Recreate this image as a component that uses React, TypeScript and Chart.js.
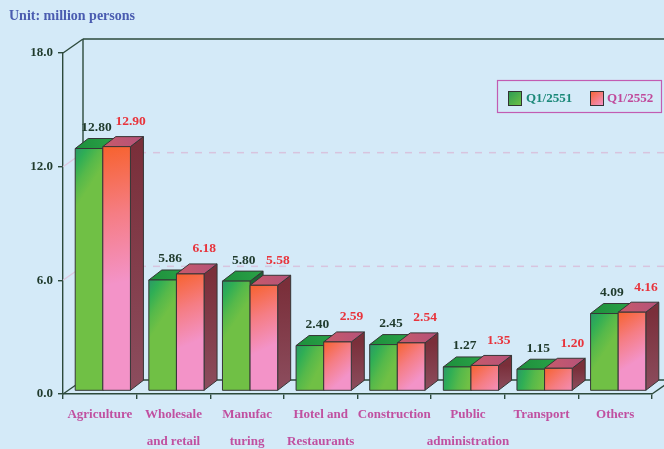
import React, { useEffect, useRef } from 'react';
import { Chart, registerables } from 'chart.js';

Chart.register(...registerables);

// ---------- data ----------
const categories: string[][] = [
  ['Agriculture'],
  ['Wholesale', 'and retail'],
  ['Manufac', 'turing'],
  ['Hotel and', 'Restaurants'],
  ['Construction'],
  ['Public', 'administration'],
  ['Transport'],
  ['Others'],
];
const seriesNames = ['Q1/2551', 'Q1/2552'];
const q2551 = [12.8, 5.86, 5.8, 2.4, 2.45, 1.27, 1.15, 4.09];
const q2552 = [12.9, 6.18, 5.58, 2.59, 2.54, 1.35, 1.2, 4.16];
const yMin = 0;
const yMax = 18;
const yStep = 6;
const gridValues = [6, 12];
const unitTitle = 'Unit: million persons';

// ---------- styles ----------
const BG = '#d4eaf8';
const FONT = '"Liberation Serif", "Times New Roman", serif';
const AXIS = '#2d4a3c';
const SX = 3, SY = -3; // bar offset into depth
const BDX = 13, BDY = -10; // bar depth
const WDX = 20, WDY = -14; // wall depth

function poly(ctx: CanvasRenderingContext2D, pts: number[][], fill: any, stroke = '#363636') {
  ctx.beginPath();
  ctx.moveTo(pts[0][0], pts[0][1]);
  for (let i = 1; i < pts.length; i++) ctx.lineTo(pts[i][0], pts[i][1]);
  ctx.closePath();
  ctx.fillStyle = fill;
  ctx.fill();
  ctx.strokeStyle = stroke;
  ctx.lineWidth = 1;
  ctx.stroke();
}

function line(ctx: CanvasRenderingContext2D, x1: number, y1: number, x2: number, y2: number) {
  ctx.beginPath();
  ctx.moveTo(x1, y1);
  ctx.lineTo(x2, y2);
  ctx.stroke();
}

function drawBar(ctx: CanvasRenderingContext2D, el: any, kind: number) {
  const p = el.getProps(['x', 'y', 'base', 'width'], true);
  const x0 = p.x - p.width / 2 + SX;
  const x1 = x0 + p.width;
  const top = p.y + SY;
  const bot = p.base + SY;
  const h = bot - top;
  let side: any;
  let topFill: any;
  let front: any;
  if (kind === 0) {
    side = ctx.createLinearGradient(0, top, 0, bot);
    side.addColorStop(0, '#1b6535');
    side.addColorStop(1, '#2a7a44');
    topFill = ctx.createLinearGradient(x0, top, x1 + BDX, top + BDY);
    topFill.addColorStop(0, '#1d8f3c');
    topFill.addColorStop(1, '#2aa247');
    front = ctx.createLinearGradient(x0, top, x1, top + Math.min(h, 60) * 0.3);
    front.addColorStop(0, '#2a9868');
    front.addColorStop(0.3, '#2fae55');
    front.addColorStop(0.65, '#56b94a');
    front.addColorStop(1, '#70c045');
  } else {
    side = ctx.createLinearGradient(0, top, 0, bot);
    side.addColorStop(0, '#7a2f3a');
    side.addColorStop(1, '#8c4d5e');
    topFill = ctx.createLinearGradient(x0, top, x1 + BDX, top + BDY);
    topFill.addColorStop(0, '#c85a6a');
    topFill.addColorStop(1, '#b4527a');
    front = ctx.createLinearGradient(x0, top, x1, top + Math.max(30, h * 0.55));
    front.addColorStop(0, '#f7622e');
    front.addColorStop(0.5, '#f57d84');
    front.addColorStop(1, '#f393c8');
  }
  poly(ctx, [[x1, top], [x1 + BDX, top + BDY], [x1 + BDX, bot + BDY], [x1, bot]], side);
  poly(ctx, [[x0, top], [x0 + BDX, top + BDY], [x1 + BDX, top + BDY], [x1, top]], topFill);
  poly(ctx, [[x0, top], [x1, top], [x1, bot], [x0, bot]], front);
}

const threeD = {
  id: 'threeD',
  beforeDraw(chart: any) {
    const { ctx, width, height } = chart;
    ctx.save();
    ctx.fillStyle = BG;
    ctx.fillRect(0, 0, width, height);
    ctx.restore();
  },
  beforeDatasetsDraw(chart: any) {
    const { ctx, chartArea: a, scales } = chart;
    const y = scales.y;
    ctx.save();
    ctx.strokeStyle = '#d8c4de';
    ctx.lineWidth = 1.5;
    ctx.setLineDash([7, 7]);
    for (const v of gridValues) {
      const py = y.getPixelForValue(v);
      line(ctx, a.left + WDX, py + WDY, chart.width + 20, py + WDY);
    }
    ctx.setLineDash([]);
    ctx.strokeStyle = '#dcc6de';
    ctx.lineWidth = 1.2;
    for (const v of gridValues) {
      const py = y.getPixelForValue(v);
      line(ctx, a.left, py, a.left + WDX, py + WDY);
    }
    ctx.strokeStyle = AXIS;
    ctx.lineWidth = 1.4;
    line(ctx, a.left, a.top, a.left + WDX, a.top + WDY);
    line(ctx, a.left + WDX, a.top + WDY, a.left + WDX, a.bottom + WDY);
    line(ctx, a.left + WDX, a.top + WDY, chart.width + 20, a.top + WDY);
    line(ctx, a.left, a.bottom, a.left + WDX, a.bottom + WDY);
    line(ctx, a.left + WDX, a.bottom + WDY, a.right + WDX, a.bottom + WDY);
    line(ctx, a.right, a.bottom, a.right + WDX, a.bottom + WDY);
    ctx.restore();
  },
  afterDatasetsDraw(chart: any) {
    const { ctx } = chart;
    const m0 = chart.getDatasetMeta(0);
    const m1 = chart.getDatasetMeta(1);
    ctx.save();
    for (let i = 0; i < m0.data.length; i++) {
      drawBar(ctx, m0.data[i], 0);
      drawBar(ctx, m1.data[i], 1);
    }
    ctx.font = `bold 13.5px ${FONT}`;
    ctx.textAlign = 'center';
    ctx.textBaseline = 'middle';
    for (let i = 0; i < m0.data.length; i++) {
      const a = m0.data[i].getProps(['x', 'y'], true);
      const b = m1.data[i].getProps(['x', 'y'], true);
      ctx.fillStyle = '#1f3a2c';
      ctx.fillText(q2551[i].toFixed(2), a.x + SX + 7.5, a.y + SY - 21);
      ctx.fillStyle = '#e8343c';
      ctx.fillText(q2552[i].toFixed(2), b.x + SX + 14, b.y + SY - 25);
    }
    ctx.restore();
  },
  afterDraw(chart: any) {
    const { ctx } = chart;
    ctx.save();
    ctx.font = `bold 14px ${FONT}`;
    ctx.fillStyle = '#4a5cb0';
    ctx.textAlign = 'left';
    ctx.textBaseline = 'middle';
    ctx.fillText(unitTitle, 9, 16);
    ctx.strokeStyle = '#c25cb2';
    ctx.lineWidth = 1.2;
    ctx.strokeRect(497.5, 80.5, 164, 32);
    const sw = [
      { x: 508, colA: '#2a9a55', colB: '#6cc045', text: '#1a8878', tx: 526 },
      { x: 590, colA: '#f7622e', colB: '#f393c8', text: '#c0489a', tx: 607 },
    ];
    ctx.font = `bold 13px ${FONT}`;
    sw.forEach((s, i) => {
      const g = ctx.createLinearGradient(s.x, 91, s.x + 13, 105);
      g.addColorStop(0, s.colA);
      g.addColorStop(1, s.colB);
      ctx.fillStyle = g;
      ctx.fillRect(s.x, 91, 13, 14);
      ctx.strokeStyle = '#333';
      ctx.lineWidth = 1;
      ctx.strokeRect(s.x + 0.5, 91.5, 13, 14);
      ctx.fillStyle = s.text;
      ctx.fillText(seriesNames[i], s.tx, 98.5);
    });
    ctx.restore();
  },
};

export default function App() {
  const ref = useRef<HTMLCanvasElement>(null);
  useEffect(() => {
    document.body.style.margin = '0';
    const chart = new Chart(ref.current as HTMLCanvasElement, {
      type: 'bar',
      data: {
        labels: categories,
        datasets: [
          { label: seriesNames[0], data: q2551, backgroundColor: 'rgba(0,0,0,0)', borderWidth: 0, categoryPercentage: 0.75, barPercentage: 1 },
          { label: seriesNames[1], data: q2552, backgroundColor: 'rgba(0,0,0,0)', borderWidth: 0, categoryPercentage: 0.75, barPercentage: 1 },
        ],
      },
      options: {
        responsive: false,
        animation: false,
        devicePixelRatio: 1,
        layout: { padding: { top: 53, right: 12, left: 0, bottom: 0 } },
        plugins: { legend: { display: false }, tooltip: { enabled: false }, title: { display: false } },
        scales: {
          x: {
            afterFit: (s: any) => { s.height = 55; },
            grid: { drawOnChartArea: false, tickLength: 5, color: AXIS, lineWidth: 1.4, offset: true },
            border: { display: true, color: AXIS, width: 1.4 },
            ticks: {
              autoSkip: false, maxRotation: 0, minRotation: 0, padding: 2.5,
              color: '#c050a0',
              font: { family: FONT, size: 13, weight: 'bold', lineHeight: 2.05 },
            },
          },
          y: {
            min: yMin, max: yMax,
            afterFit: (s: any) => { s.width = 63; },
            grid: { drawOnChartArea: false, tickLength: 5, color: AXIS, lineWidth: 1.4 },
            border: { display: true, color: AXIS, width: 1.4 },
            ticks: {
              stepSize: yStep, padding: 5,
              color: '#1f3a2c',
              font: { family: FONT, size: 13, weight: 'bold' },
              callback: (v: any) => Number(v).toFixed(1),
            },
          },
        },
      },
      plugins: [threeD],
    } as any);
    return () => chart.destroy();
  }, []);
  return (
    <div style={{ position: 'fixed', left: 0, top: 0, width: 664, height: 449, background: BG }}>
      <canvas ref={ref} width={664} height={449} style={{ display: 'block' }} />
    </div>
  );
}
